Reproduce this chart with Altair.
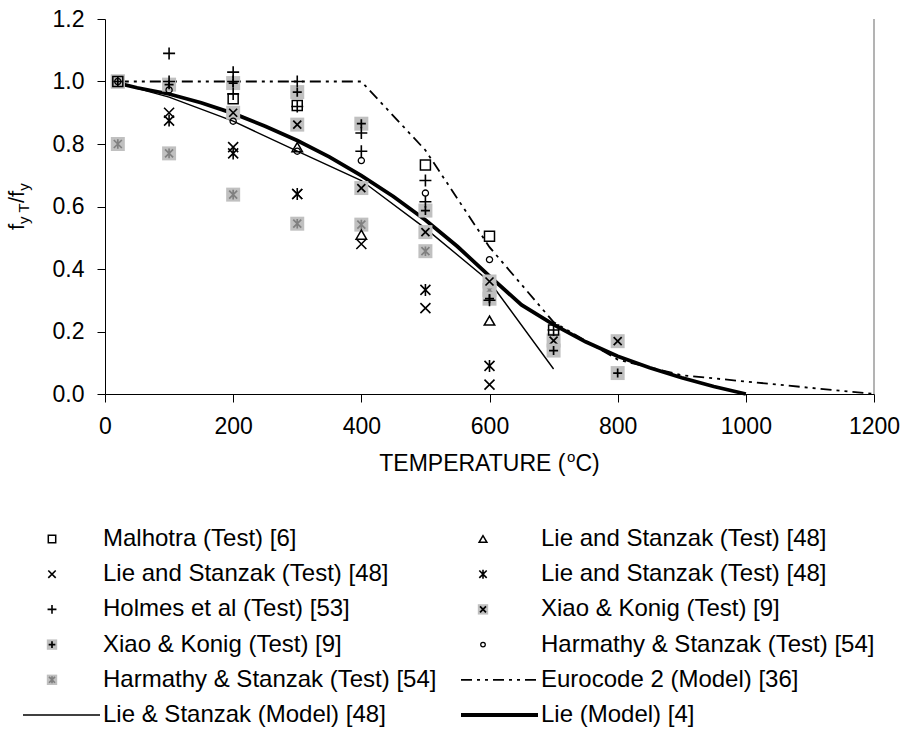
import altair as alt
import pandas as pd

# ---------------- data ----------------
malhotra_T = [20, 200, 300, 500, 600, 700]
malhotra_v = [1.0, 0.945, 0.923, 0.733, 0.505, 0.205]

lie_tri_T = [300, 400, 600]
lie_tri_v = [0.79, 0.51, 0.235]

lie_x_T = [100, 200, 300, 400, 500, 600]
lie_x_v = [0.90, 0.79, 0.64, 0.48, 0.275, 0.03]

lie_ast_T = [100, 200, 300, 500, 600]
lie_ast_v = [0.875, 0.77, 0.64, 0.333, 0.09]

holmes_T = [100, 100, 200, 200, 200, 300, 300, 400, 400, 500, 500, 600, 700]
holmes_v = [1.09, 1.0, 1.03, 1.0, 0.96, 1.0, 0.92, 0.835, 0.777, 0.683, 0.615, 0.30, 0.205]

xiao_x_T = [20, 200, 300, 400, 500, 600, 700, 800]
xiao_x_v = [1.0, 0.90, 0.862, 0.659, 0.518, 0.36, 0.171, 0.169]

xiao_p_T = [20, 100, 200, 300, 400, 500, 600, 700, 800]
xiao_p_v = [1.0, 0.99, 0.995, 0.966, 0.865, 0.587, 0.305, 0.139, 0.067]

harm_c_T = [20, 100, 200, 300, 400, 500, 600]
harm_c_v = [1.0, 0.973, 0.873, 0.777, 0.747, 0.643, 0.43]

harm_g_T = [20, 100, 200, 300, 400, 500, 600]
harm_g_v = [0.80, 0.77, 0.638, 0.545, 0.542, 0.457, 0.333]

euro_T = [20, 100, 200, 300, 400, 500, 600, 700, 800, 900, 1000, 1100, 1200]
euro_v = [1.0, 1.0, 1.0, 1.0, 1.0, 0.78, 0.47, 0.23, 0.11, 0.06, 0.04, 0.02, 0.0]

lies_T = [20, 100, 200, 300, 400, 500, 600, 700]
lies_v = [0.995, 0.95, 0.873, 0.777, 0.683, 0.53, 0.36, 0.08]

lie_T = [20, 50, 100, 150, 200, 250, 300, 350, 400, 450, 500, 550, 600,
         650, 700, 750, 800, 850, 900, 950, 1000]
lie_v = [0.995, 0.98, 0.96, 0.932, 0.898, 0.857, 0.811, 0.759, 0.699, 0.632,
         0.557, 0.472, 0.377, 0.285, 0.222, 0.167, 0.121, 0.084, 0.052, 0.024, 0.0]

x_ticks = [0, 200, 400, 600, 800, 1000, 1200]
y_ticks = [0.0, 0.2, 0.4, 0.6, 0.8, 1.0, 1.2]

legend_labels = [
    "Malhotra (Test) [6]", "Lie and Stanzak (Test) [48]",
    "Lie and Stanzak (Test) [48]", "Lie and Stanzak (Test) [48]",
    "Holmes et al (Test) [53]", "Xiao & Konig (Test) [9]",
    "Xiao & Konig (Test) [9]", "Harmathy & Stanzak (Test) [54]",
    "Harmathy & Stanzak (Test) [54]", "Eurocode 2 (Model) [36]",
    "Lie & Stanzak (Model) [48]", "Lie (Model) [4]",
]
legend_kinds = ["square", "triangle", "x", "ast", "plus", "gx",
                "gp", "circle", "ga", "euro", "thin", "thick"]

# ---------------- style ----------------
FONT = "Liberation Sans"
FS = 23
LFS = 24
W, H = 769, 375
PAD_L, PAD_T = 105, 19

XPATH = "M-1,-1L1,1M-1,1L1,-1"
PPATH = "M-1,0L1,0M0,-1L0,1"
APATH = "M-1,-1L1,1M-1,1L1,-1M0,-1.2L0,1.2"

xs = alt.Scale(domain=[0, 1200], nice=False, zero=False)
ys = alt.Scale(domain=[0, 1.2], nice=False, zero=False)
xaxis = alt.Axis(values=x_ticks, format="d", grid=False, labelFont=FONT,
                 labelFontSize=FS, labelColor="black", tickSize=8,
                 tickColor="black", domainColor="black", labelPadding=13,
                 title=None, labelFlush=False)
yaxis = alt.Axis(values=y_ticks, format=".1f", grid=False, labelFont=FONT,
                 labelFontSize=FS, labelColor="black", tickSize=8,
                 tickColor="black", domainColor="black", labelPadding=13,
                 title=None, labelFlush=False)


def data_chart(T, v):
    return alt.Chart(pd.DataFrame({"T": T, "v": v}))


def xy():
    return dict(x=alt.X("T:Q", scale=xs, axis=xaxis),
                y=alt.Y("v:Q", scale=ys, axis=yaxis))


def marks_for(kind, s=1.0):
    black = dict(filled=False, color="black", opacity=1)
    if kind == "square":
        return [lambda c: c.mark_point(shape="square", size=100 * s, strokeWidth=1.5, **black)]
    if kind == "triangle":
        return [lambda c: c.mark_point(shape="triangle-up", size=110 * s, strokeWidth=1.5, **black)]
    if kind == "x":
        return [lambda c: c.mark_point(shape=XPATH, size=100 * s, strokeWidth=1.6, **black)]
    if kind == "ast":
        return [lambda c: c.mark_point(shape=APATH, size=100 * s, strokeWidth=1.6, **black)]
    if kind == "plus":
        return [lambda c: c.mark_point(shape=PPATH, size=144 * s, strokeWidth=1.6, **black)]
    if kind == "circle":
        return [lambda c: c.mark_point(shape="circle", size=38 * s, strokeWidth=1.3, **black)]
    box = lambda c: c.mark_point(shape="square", filled=True, color="#c0c0c0",
                                 opacity=1, size=196 * s, strokeWidth=0)
    if kind == "gx":
        return [box, lambda c: c.mark_point(shape=XPATH, size=64 * s, strokeWidth=1.7, **black)]
    if kind == "gp":
        return [box, lambda c: c.mark_point(shape=PPATH, size=81 * s, strokeWidth=1.7, **black)]
    if kind == "ga":
        return [box, lambda c: c.mark_point(shape=APATH, size=64 * s, strokeWidth=1.7,
                                            filled=False, color="#808080", opacity=1)]
    return []


line_styles = {
    "euro": dict(color="black", strokeWidth=1.8, strokeDash=[11, 5, 3, 5, 3, 5]),
    "thin": dict(color="black", strokeWidth=1.4),
    "thick": dict(color="black", strokeWidth=3.8),
}

layers = []
for T, v, k in [(lies_T, lies_v, "thin"), (lie_T, lie_v, "thick"), (euro_T, euro_v, "euro")]:
    layers.append(data_chart(T, v).mark_line(**line_styles[k]).encode(**xy()))

# right plot border
layers.append(
    alt.Chart(pd.DataFrame({"a": [0]})).mark_rule(color="#9a9a9a", strokeWidth=1.5)
    .encode(x=alt.X("xb:Q", scale=xs, axis=xaxis), y=alt.Y("y0:Q", scale=ys, axis=yaxis), y2="y1:Q")
    .transform_calculate(xb="1200", y0="0", y1="1.2")
)

series = [
    (harm_g_T, harm_g_v, "ga"), (xiao_x_T, xiao_x_v, "gx"), (xiao_p_T, xiao_p_v, "gp"),
    (malhotra_T, malhotra_v, "square"), (lie_tri_T, lie_tri_v, "triangle"),
    (lie_x_T, lie_x_v, "x"), (lie_ast_T, lie_ast_v, "ast"),
    (holmes_T, holmes_v, "plus"), (harm_c_T, harm_c_v, "circle"),
]
for T, v, k in series:
    for mk in marks_for(k):
        layers.append(mk(data_chart(T, v)).encode(**xy()))

# ---------------- manual legend (below the plot) ----------------
one = pd.DataFrame({"a": [0]})
ROW0, ROWSTEP = 520, 35.2
TEXT_X = [-2, 436]
SYM_X = [-53, 378]
for i, (lab, kind) in enumerate(zip(legend_labels, legend_kinds)):
    r, c = divmod(i, 2)
    yy = ROW0 + ROWSTEP * r
    if kind in line_styles:
        layers.append(alt.Chart(one).mark_rule(**line_styles[kind]).encode(
            x=alt.value(TEXT_X[c] - 80), x2=alt.value(TEXT_X[c] - 3), y=alt.value(yy)))
    else:
        for mk in marks_for(kind, 0.55):
            layers.append(mk(alt.Chart(one)).encode(x=alt.value(SYM_X[c]), y=alt.value(yy)))
    layers.append(alt.Chart(one).mark_text(align="left", baseline="middle", font=FONT,
                                           fontSize=LFS, color="black")
                  .encode(x=alt.value(TEXT_X[c]), y=alt.value(yy), text=alt.value(lab)))

# ---------------- axis titles ----------------
# x title with superscript o: "TEMPERATURE (°C)"
xt_parts = [("TEMPERATURE (", FS, 0, 8.167), ("o", 15, -9, 0.556), ("C)", FS, 0, 1.055)]
total = sum(fs * em for _, fs, _, em in xt_parts)
xpos = W / 2 - total / 2
for txt, fs, dy, em in xt_parts:
    layers.append(alt.Chart(one).mark_text(align="left", baseline="alphabetic", font=FONT,
                                           fontSize=fs, color="black")
                  .encode(x=alt.value(xpos), y=alt.value(452 + dy), text=alt.value(txt)))
    xpos += fs * em

# y title: f_{yT}/f_{y}, rotated
yt_parts = [("f", 22, 0, 0.278), ("y T", 15, 5, 1.389), ("/f", 22, 0, 0.556), ("y", 15, 5, 0.5)]
ypos = 230 - PAD_T
for txt, fs, sub, em in yt_parts:
    layers.append(alt.Chart(one).mark_text(align="left", baseline="alphabetic", font=FONT,
                                           fontSize=fs, angle=270, color="black")
                  .encode(x=alt.value(24 - PAD_L + sub), y=alt.value(ypos), text=alt.value(txt)))
    ypos -= fs * em

chart = alt.layer(*layers).properties(
    width=W, height=H,
    autosize=alt.AutoSizeParams(type="none"),
    padding={"left": PAD_L, "top": PAD_T, "right": 904 - PAD_L - W, "bottom": 754 - PAD_T - H},
    background="white",
).configure_view(stroke=None)

chart.save("out.html", embed_options={"renderer": "svg", "actions": False})
